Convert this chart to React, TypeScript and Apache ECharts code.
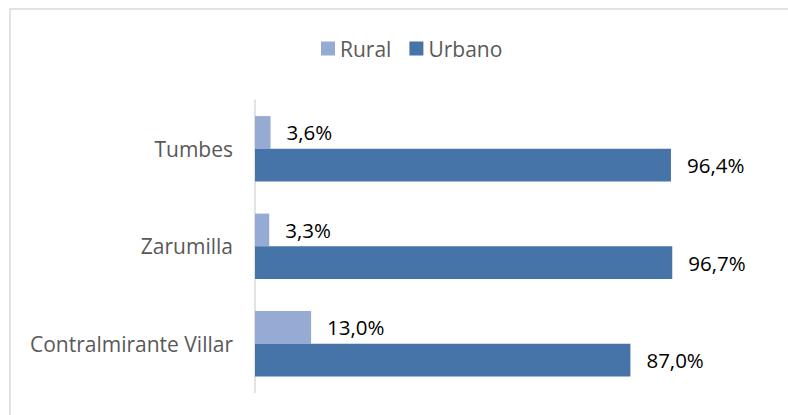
import React, { useEffect, useRef } from "react";
import * as echarts from "echarts";

const categories = ["Contralmirante Villar", "Zarumilla", "Tumbes"];
const rural = [13.0, 3.3, 3.6];
const urbano = [87.0, 96.7, 96.4];
const seriesNames = ["Rural", "Urbano"];

const fmt = (v: number) => v.toFixed(1).replace(".", ",") + "%";

export default function App() {
  const ref = useRef<HTMLDivElement>(null);
  useEffect(() => {
    if (!ref.current) return;
    const chart = echarts.init(ref.current, null, { renderer: "svg" });
    const font = "'Open Sans', sans-serif";
    const label = {
      show: true,
      position: "right" as const,
      distance: 16,
      color: "#000000",
      fontSize: 20.5,
      fontFamily: font,
      formatter: (p: any) => fmt(p.value),
    };
    chart.setOption({
      animation: false,
      backgroundColor: "#ffffff",
      graphic: [
        {
          type: "rect",
          shape: { x: 10, y: 9, width: 900, height: 600 },
          style: { fill: "none", stroke: "#d9d9d9", lineWidth: 1.5 },
          silent: true,
        },
      ],
      legend: {
        top: 33,
        left: 316,
        itemWidth: 14,
        itemHeight: 14,
        itemGap: 18,
        icon: "rect",
        textStyle: { color: "#595959", fontSize: 21, fontFamily: font },
        data: seriesNames,
      },
      grid: { left: 255, right: 101.5, top: 100, bottom: 22.5, containLabel: false },
      xAxis: {
        type: "value",
        min: 0,
        max: 100,
        show: false,
      },
      yAxis: {
        type: "category",
        data: categories,
        axisLine: { show: true, lineStyle: { color: "#d9d9d9", width: 1.5 } },
        axisTick: { show: false },
        axisLabel: { color: "#595959", fontSize: 21, fontFamily: font, margin: 22 },
      },
      series: [
        {
          name: seriesNames[0],
          type: "bar",
          data: rural,
          itemStyle: { color: "#95abd4" },
          barGap: "0%",
          barCategoryGap: "33%",
          label,
        },
        {
          name: seriesNames[1],
          type: "bar",
          data: urbano,
          itemStyle: { color: "#4674a8" },
          barGap: "0%",
          barCategoryGap: "33%",
          label,
        },
      ],
    });
    return () => chart.dispose();
  }, []);
  return (
    <div
      ref={ref}
      style={{ position: "absolute", left: 0, top: 0, width: 788, height: 415 }}
    />
  );
}
